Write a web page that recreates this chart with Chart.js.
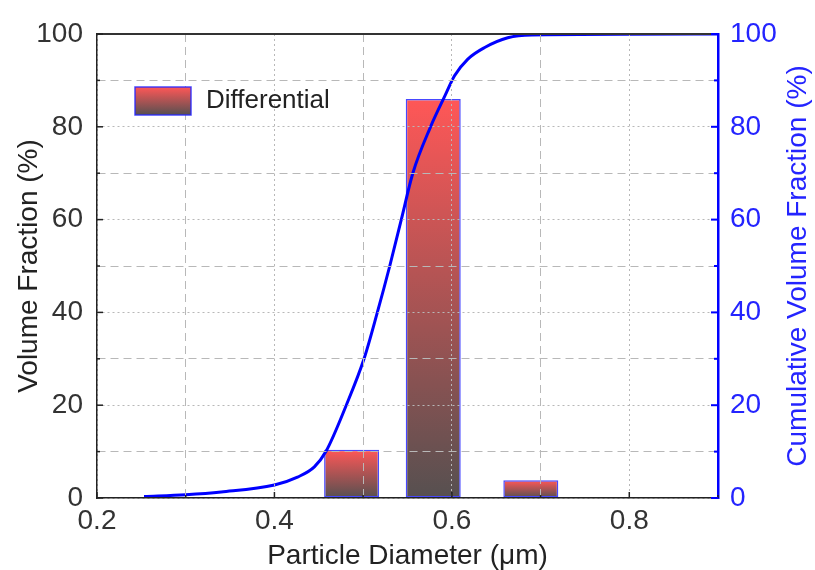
<!DOCTYPE html>
<html>
<head>
<meta charset="utf-8">
<script src="https://cdn.jsdelivr.net/npm/chart.js@4"></script>
<style>
  body { margin: 0; background: #fff; }
  canvas { display: block; }
</style>
</head>
<body>
<canvas id="psdChart" width="815" height="570"></canvas>
<script>
// Particle size distribution: differential bars + cumulative curve
const binCenters = [0.487, 0.579, 0.689];
const differentialPct = [10.4, 86.0, 3.8];
const binWidth = 0.062;

const cumDiameter = [0.253, 0.30, 0.34, 0.40, 0.426, 0.445, 0.458, 0.481, 0.501, 0.516, 0.530, 0.543, 0.556, 0.576, 0.592, 0.603, 0.618, 0.637, 0.663, 0.69, 0.9];
const cumulativePct = [0.3, 0.7, 1.3, 2.8, 4.5, 6.7, 10, 20, 30, 40, 50, 60, 70, 80, 86.6, 91, 94.6, 97.1, 99.2, 99.8, 100];

const xTickStep = 0.1;
const yTickStep = 10;

const FONT = "'Liberation Sans', Arial, sans-serif";
const BLUE = '#0000ff';
const TEXT_BLUE = '#2424ff';
const GRID = '#b8b8b8';

// bar width relative to the smallest spacing Chart.js will find
const gaps = binCenters.slice(1).map((c, i) => c - binCenters[i]);
const minGap = Math.min(xTickStep, ...gaps);

function barGradient(chart, yTop, yBottom) {
    const g = chart.ctx.createLinearGradient(0, yTop, 0, yBottom);
    g.addColorStop(0, '#ff5757');
    g.addColorStop(1, '#565050');
    return g;
}

const isMajorX = v => Math.round(v * 10) % 2 === 0;
const isMajorY = v => Math.round(v) % 20 === 0;

// inward tick marks, top frame line, legend and right title
const decorations = {
    id: 'decorations',
    afterDraw(chart) {
        const { ctx, chartArea: a, scales } = chart;
        ctx.save();
        // top frame
        ctx.strokeStyle = '#333';
        ctx.lineWidth = 2;
        ctx.beginPath();
        ctx.moveTo(a.left, a.top);
        ctx.lineTo(a.right, a.top);
        ctx.stroke();

        ctx.lineWidth = 1.5;
        ctx.strokeStyle = '#222';
        scales.y.ticks.forEach(t => {
            const py = scales.y.getPixelForValue(t.value);
            const len = isMajorY(t.value) ? 6 : 3;
            ctx.beginPath(); ctx.moveTo(a.left, py); ctx.lineTo(a.left + len, py); ctx.stroke();
        });
        scales.x.ticks.forEach(t => {
            const px = scales.x.getPixelForValue(t.value);
            const len = isMajorX(t.value) ? 6 : 3;
            ctx.beginPath(); ctx.moveTo(px, a.bottom); ctx.lineTo(px, a.bottom - len); ctx.stroke();
        });
        ctx.strokeStyle = BLUE;
        ctx.lineWidth = 2;
        scales.y2.ticks.forEach(t => {
            const py = scales.y2.getPixelForValue(t.value);
            const len = isMajorY(t.value) ? 7 : 4;
            ctx.beginPath(); ctx.moveTo(a.right, py); ctx.lineTo(a.right - len, py); ctx.stroke();
        });

        // legend
        const lx = a.left + 38, ly = a.top + 53, lw = 56, lh = 28;
        ctx.fillStyle = barGradient(chart, ly, ly + lh);
        ctx.fillRect(lx, ly, lw, lh);
        ctx.strokeStyle = 'rgba(40,40,255,0.85)';
        ctx.lineWidth = 1.5;
        ctx.strokeRect(lx, ly, lw, lh);
        ctx.fillStyle = '#222';
        ctx.font = '26px ' + FONT;
        ctx.textBaseline = 'middle';
        ctx.textAlign = 'left';
        ctx.fillText('Differential', lx + lw + 15, ly + lh / 2);

        // right axis title, reading bottom to top
        ctx.translate(chart.width - 17, (a.top + a.bottom) / 2);
        ctx.rotate(-Math.PI / 2);
        ctx.textAlign = 'center';
        ctx.fillStyle = TEXT_BLUE;
        ctx.font = '28px ' + FONT;
        ctx.fillText('Cumulative Volume Fraction (%)', 0, 0);
        ctx.restore();
    }
};

new Chart(document.getElementById('psdChart'), {
    data: {
        datasets: [
            {
                type: 'line',
                label: 'Cumulative',
                data: cumDiameter.map((d, i) => ({ x: d, y: cumulativePct[i] })),
                yAxisID: 'y2',
                borderColor: BLUE,
                borderWidth: 3,
                pointRadius: 0,
                cubicInterpolationMode: 'monotone',
                order: 0
            },
            {
                type: 'bar',
                label: 'Differential',
                data: binCenters.map((c, i) => ({ x: c, y: differentialPct[i] })),
                yAxisID: 'y',
                backgroundColor: (c) => {
                    const chart = c.chart;
                    if (!chart.chartArea || c.type !== 'data') return '#f55';
                    const yScale = chart.scales.y;
                    return barGradient(chart, yScale.getPixelForValue(c.parsed.y), yScale.getPixelForValue(0));
                },
                borderColor: 'rgba(40,40,255,0.85)',
                borderWidth: 1.5,
                borderSkipped: false,
                categoryPercentage: 1,
                barPercentage: binWidth / minGap,
                order: 1
            }
        ]
    },
    options: {
        responsive: false,
        animation: false,
        layout: { padding: { top: 34, left: 0, right: 0, bottom: 0 } },
        plugins: {
            legend: { display: false },
            tooltip: { enabled: false }
        },
        scales: {
            x: {
                type: 'linear',
                min: 0.2,
                max: 0.9,
                offset: false,
                afterFit: s => { s.height = 72; },
                ticks: {
                    stepSize: xTickStep,
                    autoSkip: false,
                    maxRotation: 0,
                    padding: 6,
                    color: '#333',
                    font: { family: FONT, size: 28 },
                    callback: v => isMajorX(v) ? v.toFixed(1) : ''
                },
                grid: { color: GRID, lineWidth: 1, drawTicks: false, offset: false, z: 1 },
                border: {
                    color: '#222', width: 1.5, z: 2,
                    dash: c => (c.tick ? (isMajorX(c.tick.value) ? [2, 3] : [8, 5]) : [])
                },
                title: {
                    display: true,
                    text: 'Particle Diameter (\u03bcm)',
                    color: '#222',
                    font: { family: FONT, size: 28, lineHeight: 1 },
                    padding: { top: 0, bottom: 0 }
                }
            },
            y: {
                position: 'left',
                min: 0,
                max: 100,
                afterFit: s => { s.width = 97; },
                ticks: {
                    stepSize: yTickStep,
                    autoSkip: false,
                    padding: 14,
                    color: '#333',
                    font: { family: FONT, size: 28 },
                    callback: v => isMajorY(v) ? String(v) : ''
                },
                grid: { color: GRID, lineWidth: 1, drawTicks: false, z: 1 },
                border: {
                    color: '#222', width: 1.5, z: 2,
                    dash: c => (c.tick ? (isMajorY(c.tick.value) ? [2, 3] : [8, 5]) : [])
                },
                title: {
                    display: true,
                    text: 'Volume Fraction (%)',
                    color: '#222',
                    font: { family: FONT, size: 28, lineHeight: 1 },
                    padding: { top: 15, bottom: 0 }
                }
            },
            y2: {
                position: 'right',
                min: 0,
                max: 100,
                afterFit: s => { s.width = 97; },
                ticks: {
                    stepSize: yTickStep,
                    autoSkip: false,
                    padding: 12,
                    color: TEXT_BLUE,
                    font: { family: FONT, size: 28 },
                    callback: v => isMajorY(v) ? String(v) : ''
                },
                grid: { drawOnChartArea: false, drawTicks: false },
                border: { color: BLUE, width: 2.5, z: 2 }
            }
        }
    },
    plugins: [decorations]
});
</script>
</body>
</html>
